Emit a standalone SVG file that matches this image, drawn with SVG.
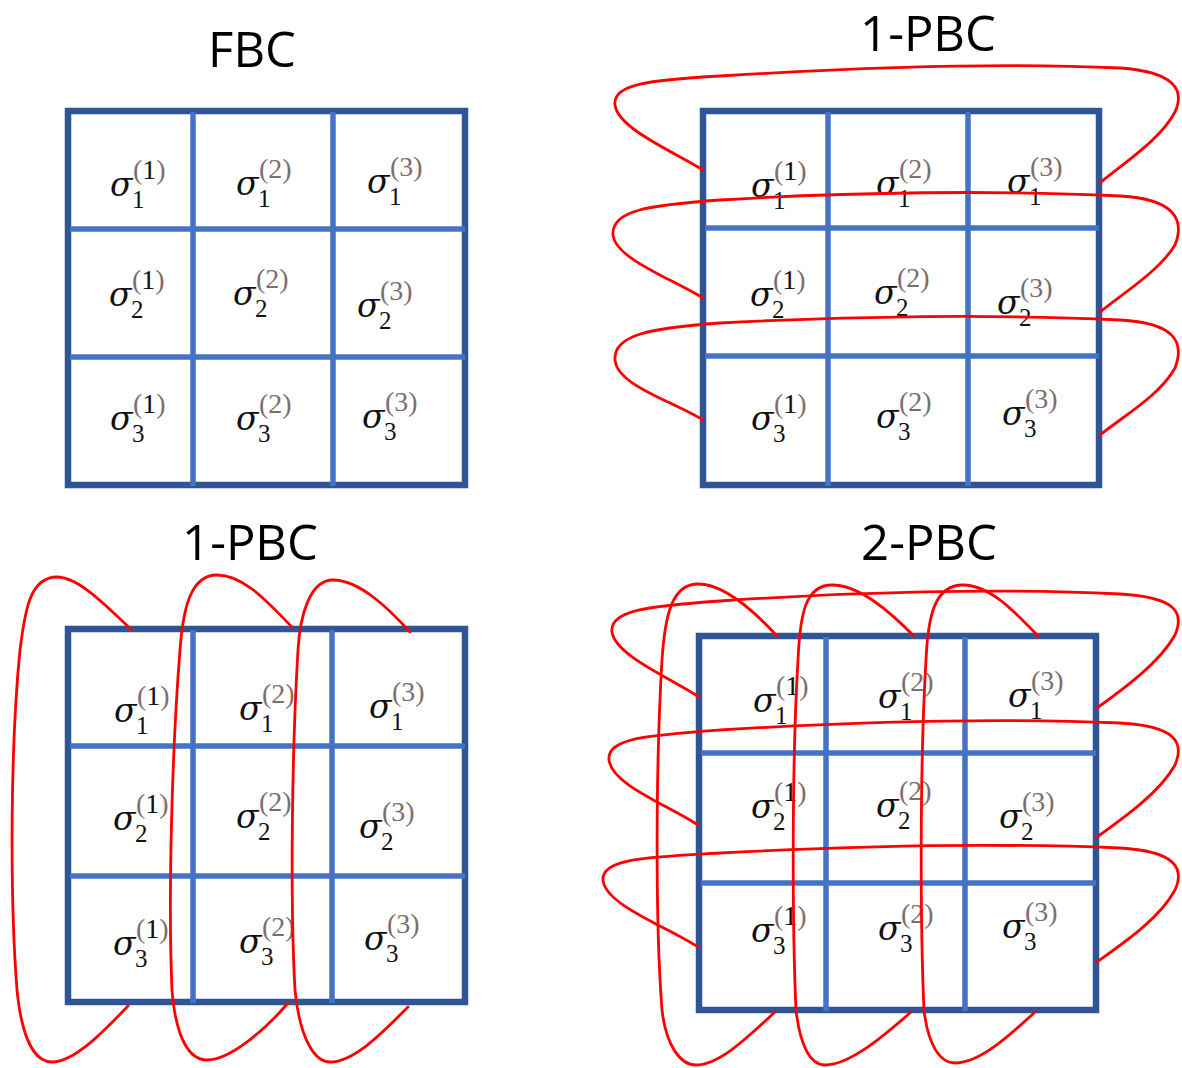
<svg xmlns="http://www.w3.org/2000/svg" width="1182" height="1068" viewBox="0 0 1182 1068">
<style>
.bg{fill:#ffffff}
.outer{fill:none;stroke:#2F5597;stroke-width:6.5}
.inner{stroke:#4472C4;stroke-width:5.5}
.title{font-family:"Open Sans","Liberation Sans",sans-serif;font-size:49px;fill:#000;text-anchor:middle}
.s{font-family:"DejaVu Serif","Liberation Serif",serif;font-style:italic;font-size:33px;fill:#111}
.sub{font-family:"Liberation Serif","DejaVu Serif",serif;font-style:normal;font-size:25px;fill:#111}
.sup{font-family:"Liberation Serif","DejaVu Serif",serif;font-style:normal;font-size:28px;fill:#7a6e6e}
.k{fill:#111}
.red{fill:none;stroke:#FF0000;stroke-width:2.8;stroke-linecap:round}
</style>
<rect class="bg" x="0" y="0" width="1182" height="1068"/>

<g id="panel-fbc">
  <text class="title" x="252" y="67">FBC</text>
  <rect class="outer" x="68" y="111" width="397" height="374"/>
  <line class="inner" x1="193" y1="112" x2="193" y2="486"/>
  <line class="inner" x1="333" y1="112" x2="333" y2="486"/>
  <line class="inner" x1="70" y1="229" x2="465" y2="229"/>
  <line class="inner" x1="70" y1="357" x2="465" y2="357"/>
</g>
<g id="panel-1pbc-rows">
  <text class="title" x="928" y="51">1-PBC</text>
  <rect class="outer" x="703" y="111" width="396" height="374"/>
  <line class="inner" x1="828" y1="112" x2="828" y2="486"/>
  <line class="inner" x1="968" y1="112" x2="968" y2="486"/>
  <line class="inner" x1="705" y1="228" x2="1099" y2="228"/>
  <line class="inner" x1="705" y1="356" x2="1099" y2="356"/>
</g>
<g id="panel-1pbc-cols">
  <text class="title" x="250" y="560">1-PBC</text>
  <rect class="outer" x="68" y="629" width="397" height="373"/>
  <line class="inner" x1="193" y1="630" x2="193" y2="1003"/>
  <line class="inner" x1="332" y1="630" x2="332" y2="1003"/>
  <line class="inner" x1="70" y1="746" x2="465" y2="746"/>
  <line class="inner" x1="70" y1="876" x2="465" y2="876"/>
</g>
<g id="panel-2pbc">
  <text class="title" x="929" y="560">2-PBC</text>
  <rect class="outer" x="699" y="636" width="397" height="374"/>
  <line class="inner" x1="826" y1="637" x2="826" y2="1011"/>
  <line class="inner" x1="965" y1="637" x2="965" y2="1011"/>
  <line class="inner" x1="701" y1="753" x2="1096" y2="753"/>
  <line class="inner" x1="701" y1="883" x2="1096" y2="883"/>
</g>

<!-- labels: FBC -->
<g id="fbc-11" transform="translate(110,196)"><text class="s">σ<tspan class="sub" x="22" y="12">1</tspan><tspan class="sup" x="23" y="-17">(<tspan class="k">1</tspan>)</tspan></text></g>
<g id="fbc-12" transform="translate(236,195)"><text class="s">σ<tspan class="sub" x="22" y="12">1</tspan><tspan class="sup" x="23" y="-17">(2)</tspan></text></g>
<g id="fbc-13" transform="translate(367,193)"><text class="s">σ<tspan class="sub" x="22" y="12">1</tspan><tspan class="sup" x="23" y="-17">(3)</tspan></text></g>
<g id="fbc-21" transform="translate(109,306)"><text class="s">σ<tspan class="sub" x="22" y="12">2</tspan><tspan class="sup" x="23" y="-17">(<tspan class="k">1</tspan>)</tspan></text></g>
<g id="fbc-22" transform="translate(233,305)"><text class="s">σ<tspan class="sub" x="22" y="12">2</tspan><tspan class="sup" x="23" y="-17">(2)</tspan></text></g>
<g id="fbc-23" transform="translate(357,317)"><text class="s">σ<tspan class="sub" x="22" y="12">2</tspan><tspan class="sup" x="23" y="-17">(3)</tspan></text></g>
<g id="fbc-31" transform="translate(110,430)"><text class="s">σ<tspan class="sub" x="22" y="12">3</tspan><tspan class="sup" x="23" y="-17">(<tspan class="k">1</tspan>)</tspan></text></g>
<g id="fbc-32" transform="translate(236,430)"><text class="s">σ<tspan class="sub" x="22" y="12">3</tspan><tspan class="sup" x="23" y="-17">(2)</tspan></text></g>
<g id="fbc-33" transform="translate(362,428)"><text class="s">σ<tspan class="sub" x="22" y="12">3</tspan><tspan class="sup" x="23" y="-17">(3)</tspan></text></g>

<!-- labels: 1-PBC rows -->
<g id="pr-11" transform="translate(751,197)"><text class="s">σ<tspan class="sub" x="22" y="12">1</tspan><tspan class="sup" x="23" y="-17">(<tspan class="k">1</tspan>)</tspan></text></g>
<g id="pr-12" transform="translate(876,195)"><text class="s">σ<tspan class="sub" x="22" y="12">1</tspan><tspan class="sup" x="23" y="-17">(2)</tspan></text></g>
<g id="pr-13" transform="translate(1007,193)"><text class="s">σ<tspan class="sub" x="22" y="12">1</tspan><tspan class="sup" x="23" y="-17">(3)</tspan></text></g>
<g id="pr-21" transform="translate(750,306)"><text class="s">σ<tspan class="sub" x="22" y="12">2</tspan><tspan class="sup" x="23" y="-17">(<tspan class="k">1</tspan>)</tspan></text></g>
<g id="pr-22" transform="translate(874,304)"><text class="s">σ<tspan class="sub" x="22" y="12">2</tspan><tspan class="sup" x="23" y="-17">(2)</tspan></text></g>
<g id="pr-23" transform="translate(997,314)"><text class="s">σ<tspan class="sub" x="22" y="12">2</tspan><tspan class="sup" x="23" y="-17">(3)</tspan></text></g>
<g id="pr-31" transform="translate(751,430)"><text class="s">σ<tspan class="sub" x="22" y="12">3</tspan><tspan class="sup" x="23" y="-17">(<tspan class="k">1</tspan>)</tspan></text></g>
<g id="pr-32" transform="translate(876,428)"><text class="s">σ<tspan class="sub" x="22" y="12">3</tspan><tspan class="sup" x="23" y="-17">(2)</tspan></text></g>
<g id="pr-33" transform="translate(1002,425)"><text class="s">σ<tspan class="sub" x="22" y="12">3</tspan><tspan class="sup" x="23" y="-17">(3)</tspan></text></g>

<!-- labels: 1-PBC columns -->
<g id="pc-11" transform="translate(114,722)"><text class="s">σ<tspan class="sub" x="22" y="12">1</tspan><tspan class="sup" x="23" y="-17">(<tspan class="k">1</tspan>)</tspan></text></g>
<g id="pc-12" transform="translate(239,720)"><text class="s">σ<tspan class="sub" x="22" y="12">1</tspan><tspan class="sup" x="23" y="-17">(2)</tspan></text></g>
<g id="pc-13" transform="translate(369,718)"><text class="s">σ<tspan class="sub" x="22" y="12">1</tspan><tspan class="sup" x="23" y="-17">(3)</tspan></text></g>
<g id="pc-21" transform="translate(113,830)"><text class="s">σ<tspan class="sub" x="22" y="12">2</tspan><tspan class="sup" x="23" y="-17">(<tspan class="k">1</tspan>)</tspan></text></g>
<g id="pc-22" transform="translate(236,828)"><text class="s">σ<tspan class="sub" x="22" y="12">2</tspan><tspan class="sup" x="23" y="-17">(2)</tspan></text></g>
<g id="pc-23" transform="translate(359,838)"><text class="s">σ<tspan class="sub" x="22" y="12">2</tspan><tspan class="sup" x="23" y="-17">(3)</tspan></text></g>
<g id="pc-31" transform="translate(113,955)"><text class="s">σ<tspan class="sub" x="22" y="12">3</tspan><tspan class="sup" x="23" y="-17">(<tspan class="k">1</tspan>)</tspan></text></g>
<g id="pc-32" transform="translate(239,953)"><text class="s">σ<tspan class="sub" x="22" y="12">3</tspan><tspan class="sup" x="23" y="-17">(2)</tspan></text></g>
<g id="pc-33" transform="translate(364,950)"><text class="s">σ<tspan class="sub" x="22" y="12">3</tspan><tspan class="sup" x="23" y="-17">(3)</tspan></text></g>

<!-- labels: 2-PBC -->
<g id="p2-11" transform="translate(753,712)"><text class="s">σ<tspan class="sub" x="22" y="12">1</tspan><tspan class="sup" x="23" y="-17">(<tspan class="k">1</tspan>)</tspan></text></g>
<g id="p2-12" transform="translate(878,708)"><text class="s">σ<tspan class="sub" x="22" y="12">1</tspan><tspan class="sup" x="23" y="-17">(2)</tspan></text></g>
<g id="p2-13" transform="translate(1008,707)"><text class="s">σ<tspan class="sub" x="22" y="12">1</tspan><tspan class="sup" x="23" y="-17">(3)</tspan></text></g>
<g id="p2-21" transform="translate(751,818)"><text class="s">σ<tspan class="sub" x="22" y="12">2</tspan><tspan class="sup" x="23" y="-17">(<tspan class="k">1</tspan>)</tspan></text></g>
<g id="p2-22" transform="translate(876,817)"><text class="s">σ<tspan class="sub" x="22" y="12">2</tspan><tspan class="sup" x="23" y="-17">(2)</tspan></text></g>
<g id="p2-23" transform="translate(999,828)"><text class="s">σ<tspan class="sub" x="22" y="12">2</tspan><tspan class="sup" x="23" y="-17">(3)</tspan></text></g>
<g id="p2-31" transform="translate(751,942)"><text class="s">σ<tspan class="sub" x="22" y="12">3</tspan><tspan class="sup" x="23" y="-17">(<tspan class="k">1</tspan>)</tspan></text></g>
<g id="p2-32" transform="translate(878,940)"><text class="s">σ<tspan class="sub" x="22" y="12">3</tspan><tspan class="sup" x="23" y="-17">(2)</tspan></text></g>
<g id="p2-33" transform="translate(1002,938)"><text class="s">σ<tspan class="sub" x="22" y="12">3</tspan><tspan class="sup" x="23" y="-17">(3)</tspan></text></g>

<g id="connectors">
  <!-- 1-PBC rows -->
  <path class="red" d="M703,170 C670,150 618,128 615,105 C612,84 650,80 720,76 C850,68 1000,62 1120,68 C1175,72 1185,90 1175,112 C1160,140 1125,162 1100,183"/>
  <path class="red" d="M703,298 C670,278 615,258 613,235 C611,210 650,205 720,200 C850,192 1000,190 1120,196 C1175,199 1185,220 1175,245 C1160,270 1125,292 1100,312"/>
  <path class="red" d="M703,420 C670,400 617,385 615,360 C613,335 650,328 720,323 C850,316 1000,314 1120,320 C1175,323 1185,342 1175,368 C1160,395 1125,415 1100,435"/>
  <!-- 1-PBC columns -->
  <path class="red" d="M132,630 C110,610 80,577 57,577 C30,577 25,610 20,650 C10,750 10,900 17,990 C22,1040 35,1062 52,1062 C75,1062 105,1030 128,1006"/>
  <path class="red" d="M292,627 C270,605 245,575 217,575 C190,575 183,610 180,650 C172,750 168,900 172,990 C176,1040 190,1060 207,1060 C230,1060 265,1030 288,1003"/>
  <path class="red" d="M410,632 C390,610 360,580 333,580 C310,580 300,615 298,650 C292,750 290,900 295,990 C300,1040 315,1062 330,1062 C355,1062 385,1030 408,1007"/>
  <!-- 2-PBC rows -->
  <path class="red" d="M699,697 C670,678 615,655 612,632 C609,610 650,606 720,601 C850,592 1000,588 1120,594 C1175,597 1185,612 1175,635 C1160,662 1125,688 1097,708"/>
  <path class="red" d="M698,825 C668,805 612,785 609,760 C606,738 650,735 720,730 C850,722 1000,718 1120,723 C1175,726 1185,742 1175,765 C1160,792 1125,817 1097,837"/>
  <path class="red" d="M698,947 C668,927 605,905 603,880 C601,858 650,857 720,853 C850,846 1000,843 1120,848 C1175,851 1185,868 1175,890 C1160,918 1125,942 1097,962"/>
  <!-- 2-PBC columns -->
  <path class="red" d="M777,636 C755,612 725,584 698,584 C672,584 665,615 662,660 C656,760 655,920 662,1010 C666,1045 680,1065 696,1065 C720,1065 750,1035 775,1012"/>
  <path class="red" d="M914,636 C890,612 860,585 832,585 C805,585 800,615 798,660 C792,760 792,920 796,1010 C800,1045 810,1065 825,1065 C850,1065 885,1035 911,1012"/>
  <path class="red" d="M1038,636 C1015,612 990,585 963,585 C935,585 928,615 926,660 C920,760 920,920 924,1010 C928,1045 940,1063 955,1063 C980,1063 1010,1035 1035,1012"/>
</g>
</svg>
